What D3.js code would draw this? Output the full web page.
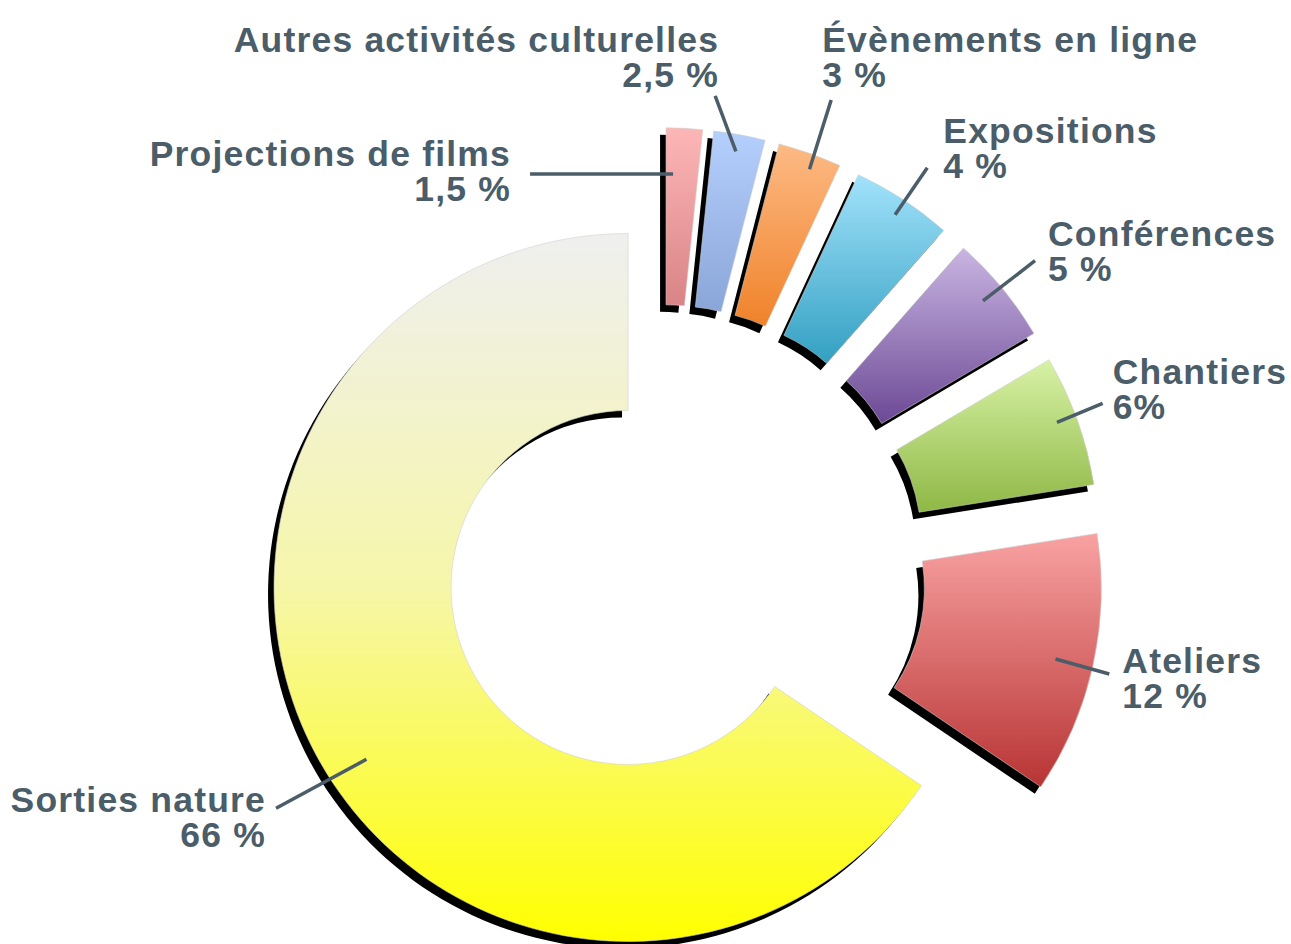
<!DOCTYPE html>
<html><head><meta charset="utf-8">
<script src="https://cdn.jsdelivr.net/npm/d3@7"></script>
<style>html,body{margin:0;padding:0;background:#fff;} svg{display:block}</style>
</head><body>
<svg id="chart" width="1291" height="944"></svg>
<script>
const categories = ["Projections de films","Autres activités culturelles","Évènements en ligne","Expositions","Conférences","Chantiers","Ateliers","Sorties nature"];
const values = [1.65, 2.35, 2.9, 4.6, 5.0, 6.0, 11.95, 65.55];
const valueLabels = ["1,5 %","2,5 %","3 %","4 %","5 %","6%","12 %","66 %"];
const colorsTop = ["#fdb6b6","#b5cffd","#fdba84","#a2e2fb","#c9b5e2","#d8f2a6","#f9a2a2","#efefef"];
const colorsBottom = ["#d98487","#8aa6d8","#f0822a","#33a0c2","#6c4995","#8fb846","#b83434","#ffff00"];

// ---- layout ----
const cx = 661.5, cy = 569.7, rOuter = 354, rInner = 177;
const explodeMain = 37.9, explodeOther = 88;
const shadowDx = -6, shadowDy = 7;
const textColor = "#4a5d68";
// leader line & text placement, polar (degrees) relative to each slice's own centre
const labelLayout = [
  {inA:1.3,   inR:308, outA:-23.84, outR:336.5, anchor:"end",   tdx:-19, tdy:-8},
  {inA:10.06, inR:337, outA:5.62,   outR:389,   anchor:"end",   tdx:4,   tdy:-44},
  {inA:20.45, inR:339, outA:19.91,  outR:411.4, anchor:"start", tdx:-9,  tdy:-48},
  {inA:33.4,  inR:337, outA:33.55,  outR:393.9, anchor:"start", tdx:16,  tdy:-24.5},
  {inA:50.03, inR:331, outA:50.4,   outR:396.8, anchor:"start", tdx:13,  tdy:-15},
  {inA:69.4,  inR:334, outA:69.14,  outR:383.5, anchor:"start", tdx:10,  tdy:-19.5},
  {inA:102.85,inR:316, outA:103.26, outR:371.8, anchor:"start", tdx:13,  tdy:-1.5},
  {inA:236.7, inR:313, outA:237.9,  outR:415.5, anchor:"end",   tdx:-10, tdy:4}
];

const svg = d3.select("#chart");
const defs = svg.append("defs");

const pie = d3.pie().sort(null).value(d => d).startAngle(0).endAngle(2 * Math.PI);
const arcs = pie(values);
const arc = d3.arc().innerRadius(rInner).outerRadius(rOuter);

const polar = (a, r) => [r * Math.sin(a), -r * Math.cos(a)];
const rad = deg => deg * Math.PI / 180;

const sliceInfo = arcs.map((d, i) => {
  const mid = (d.startAngle + d.endAngle) / 2;
  const ex = categories[i] === "Sorties nature" ? explodeMain : explodeOther;
  const [ox, oy] = polar(mid, ex);
  return {d, i, mid, x: cx + ox, y: cy + oy};
});

categories.forEach((c, i) => {
  const g = defs.append("linearGradient").attr("id", "grad" + i)
    .attr("x1", 0).attr("y1", 0).attr("x2", 0).attr("y2", 1);
  g.append("stop").attr("offset", "0%").attr("stop-color", colorsTop[i]);
  if (c === "Sorties nature") {
    g.append("stop").attr("offset", "50%").attr("stop-color", "#f6f6aa");
  }
  g.append("stop").attr("offset", "100%").attr("stop-color", colorsBottom[i]);
});

// shadows
const shadowLayer = svg.append("g");
sliceInfo.forEach(s => {
  shadowLayer.append("path")
    .attr("transform", `translate(${s.x + shadowDx},${s.y + shadowDy})`)
    .attr("d", arc(s.d))
    .attr("fill", "#000");
});

// slices
const sliceLayer = svg.append("g");
sliceInfo.forEach(s => {
  sliceLayer.append("path")
    .attr("transform", `translate(${s.x},${s.y})`)
    .attr("d", arc(s.d))
    .attr("fill", `url(#grad${s.i})`)
    .attr("stroke", "#d0d0d0")
    .attr("stroke-width", 0.6);
});

// labels
const labelLayer = svg.append("g")
  .attr("font-family", "'Liberation Sans', Arial, Helvetica, sans-serif")
  .attr("font-weight", "bold")
  .attr("font-size", 35.5)
  .attr("fill", textColor);

sliceInfo.forEach(s => {
  const L = labelLayout[s.i];
  const [ix, iy] = polar(rad(L.inA), L.inR);
  const [ox, oy] = polar(rad(L.outA), L.outR);
  const x1 = s.x + ix, y1 = s.y + iy, x2 = s.x + ox, y2 = s.y + oy;
  labelLayer.append("line")
    .attr("x1", x1).attr("y1", y1).attr("x2", x2).attr("y2", y2)
    .attr("stroke", textColor).attr("stroke-width", 3.5);
  const t = labelLayer.append("text")
    .attr("text-anchor", L.anchor)
    .attr("letter-spacing", 1.2)
    .attr("x", x2 + L.tdx).attr("y", y2 + L.tdy);
  t.append("tspan").attr("x", x2 + L.tdx).attr("y", y2 + L.tdy).text(categories[s.i]);
  t.append("tspan").attr("x", x2 + L.tdx).attr("y", y2 + L.tdy + 35).text(valueLabels[s.i]);
});
</script>
</body></html>
